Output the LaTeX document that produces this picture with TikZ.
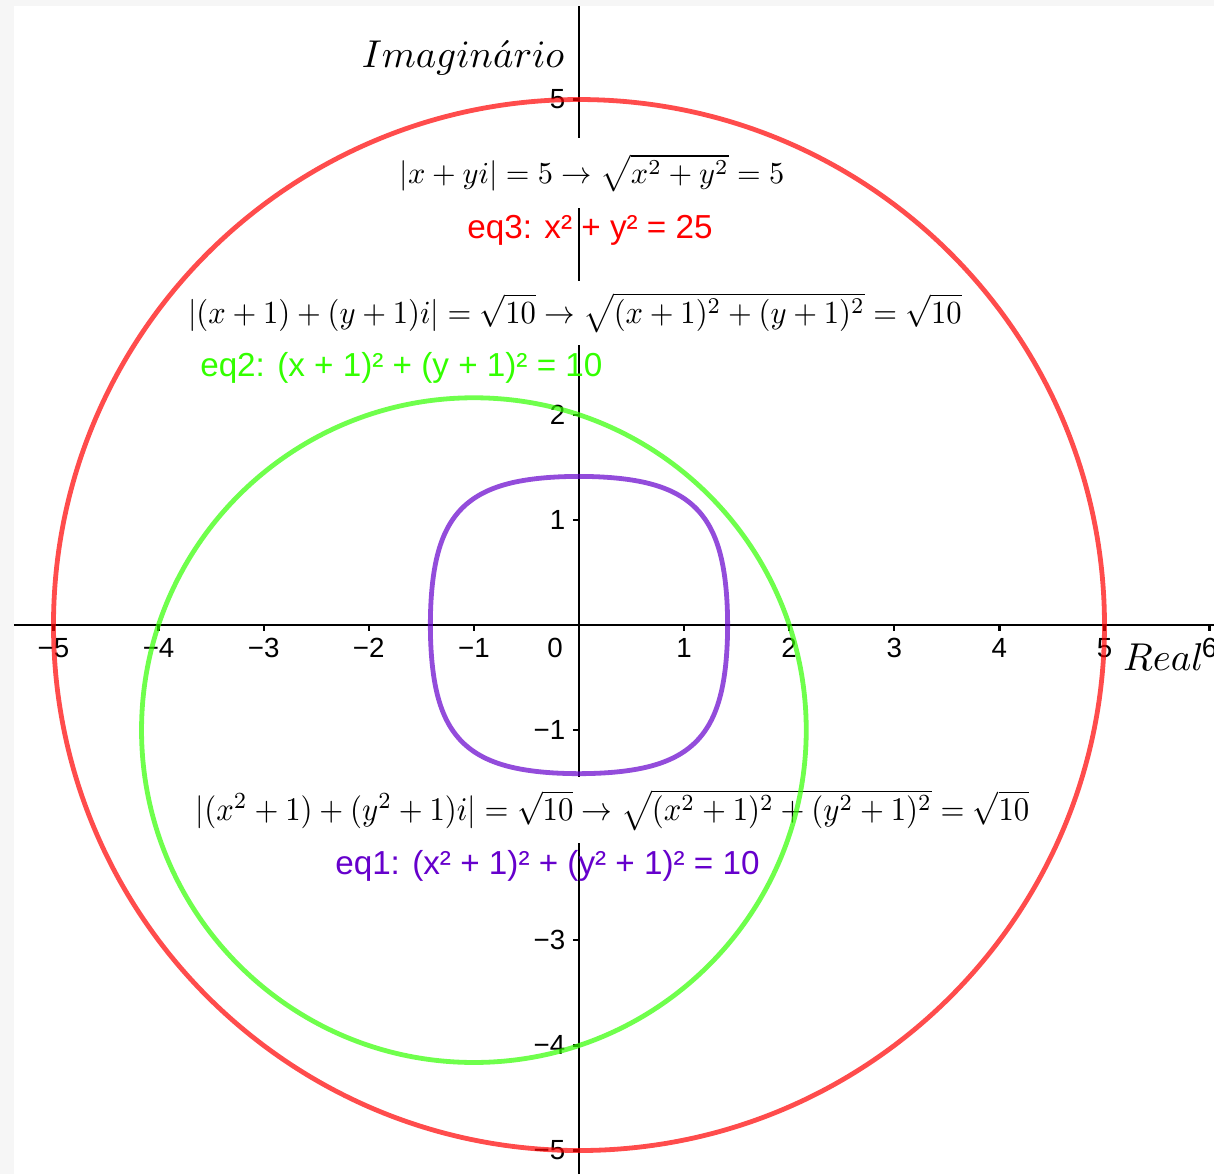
\RequirePackage{fix-cm}
\documentclass[tikz,border=0pt]{standalone}
\usepackage{graphicx}
\usepackage{fontspec}
\setmainfont{Liberation Sans}
\definecolor{eqred}{RGB}{255,0,0}
\definecolor{eqgreen}{RGB}{51,255,0}
\definecolor{eqpurple}{RGB}{102,0,204}
\begin{document}
\begin{tikzpicture}[
  declare function={aa(\t)=1-0.5*sin(2*\t)*sin(2*\t); rr(\t)=sqrt((sqrt(1+8*aa(\t))-1)/aa(\t));},
  axisline/.style={black, line width=0.6pt},
  ticklabel/.style={font=\fontsize{7.5}{9}\selectfont, inner sep=0pt},
  mathbox/.style={fill=white, inner xsep=2pt},
  eqlabel/.style={font=\fontsize{9}{11}\selectfont, inner sep=0pt},
  axislabel/.style={font=\fontsize{10.5}{12}\selectfont, inner sep=0pt},
  curvestroke/.style={line width=1.3pt, opacity=0.7}]
\useasboundingbox (-5.509,-5.224) rectangle (6.042,5.947);
\fill[gray!7] (-5.509,-5.224) rectangle (6.042,5.947);
\fill[white] (-5.376,-5.224) rectangle (6.042,5.890);
% axes
\draw[axisline] (-5.376,0) -- (6.042,0);
\draw[axisline] (0,-5.224) -- (0,5.890);
\foreach \i/\t in {-5/−5,-4/−4,-3/−3,-2/−2,-1/−1,1/1,2/2,3/3,4/4,5/5,6/6}
  \draw[axisline] (\i,0) -- (\i,-0.06) node[ticklabel] at (\i,-0.22) {\t};
\foreach \j/\t in {-5/−5,-4/−4,-3/−3,-1/−1,1/1,2/2,5/5}
  \draw[axisline] (0,\j) -- (-0.06,\j) node[ticklabel, anchor=east] at (-0.12,\j) {\t};
\node[ticklabel] (o) at (-0.228,-0.219) {0};
\node[axislabel, anchor=base east] (im) at (-0.133,5.30) {$Imagin\acute{a}rio$};
\node[axislabel, anchor=base west] (re) at (5.17,-0.428) {$Real$};
% moduli
\node[mathbox, minimum height=0.66cm] (mod3) at (0.124,4.30)
  {\resizebox*{3.66cm}{0.36cm}{$|x+yi|=5\rightarrow\sqrt{x^2+y^2}=5$}};
\node[mathbox, minimum height=0.49cm] (mod2) at (-0.04,2.97)
  {\resizebox*{7.36cm}{0.38cm}{$|(x+1)+(y+1)i|=\sqrt{10}\rightarrow\sqrt{(x+1)^2+(y+1)^2}=\sqrt{10}$}};
\node[mathbox, minimum height=0.52cm] (mod1) at (0.32,-1.76)
  {\resizebox*{7.93cm}{0.39cm}{$|(x^2+1)+(y^2+1)i|=\sqrt{10}\rightarrow\sqrt{(x^2+1)^2+(y^2+1)^2}=\sqrt{10}$}};
% curves
\draw[curvestroke, eqred] (0,0) circle (5);
\draw[curvestroke, eqgreen] (-1,-1) circle ({sqrt(10)});
\draw[curvestroke, eqpurple] plot[domain=0:358, samples=180, smooth cycle] ({rr(\x)*cos(\x)}, {rr(\x)*sin(\x)});
\node[eqlabel, text=eqred] (eq3) at (0.105,3.76) {eq3: x² + y² = 25};
\node[eqlabel, text=eqgreen] (eq2) at (-1.69,2.45) {eq2: (x + 1)² + (y + 1)² = 10};
\node[eqlabel, text=eqpurple] (eq1) at (-0.30,-2.29) {eq1: (x² + 1)² + (y² + 1)² = 10};
\end{tikzpicture}
\end{document}
